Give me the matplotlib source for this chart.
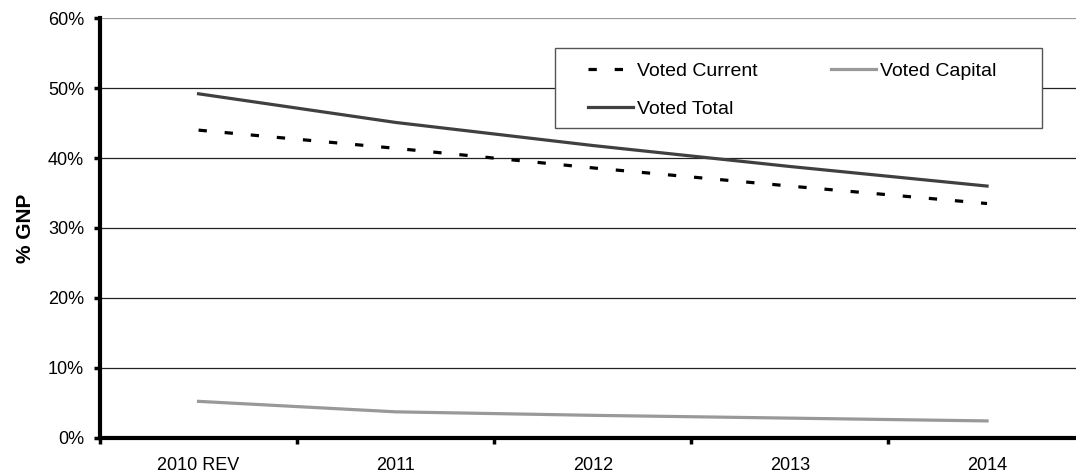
import matplotlib
matplotlib.use("Agg")
import matplotlib.pyplot as plt
from matplotlib.patches import Rectangle
from matplotlib.ticker import FixedLocator, NullFormatter, FuncFormatter

plt.rcParams['font.family'] = ['Liberation Sans', 'DejaVu Sans']

categories = ["2010 REV", "2011", "2012", "2013", "2014"]
voted_current = [44.0, 41.4, 38.6, 36.0, 33.5]
voted_capital = [5.2, 3.7, 3.2, 2.8, 2.4]
voted_total = [49.2, 45.1, 41.8, 38.8, 36.0]
y_ticks = [0, 10, 20, 30, 40, 50, 60]

W, H = 1076, 475
fig = plt.figure(figsize=(W / 100, H / 100), dpi=100)
ax = fig.add_axes([100/W, (H-437.7)/H, (1085.6-100)/W, (437.7-18.3)/H])

x = list(range(len(categories)))
l_cur, = ax.plot(x, voted_current, color='black', lw=2.3, dashes=(2.6, 5.6),
                 label='Voted Current', dash_capstyle='butt')
l_cap, = ax.plot(x, voted_capital, color='#999999', lw=2.3, label='Voted Capital')
l_tot, = ax.plot(x, voted_total, color='#404040', lw=2.3, label='Voted Total')

ax.set_xlim(-0.5, len(categories) - 0.5)
ax.set_ylim(0, 60)

ax.yaxis.set_major_locator(FixedLocator(y_ticks))
ax.yaxis.set_major_formatter(FuncFormatter(lambda v, p: f"{int(v)}%"))
for yv in y_ticks[1:]:
    ax.axhline(yv, color='#222222' if yv < 60 else '#999999', lw=0.9, zorder=0)

ax.xaxis.set_major_locator(FixedLocator([i - 0.5 for i in range(len(categories) + 1)]))
ax.xaxis.set_major_formatter(NullFormatter())
ax.xaxis.set_minor_locator(FixedLocator(x))
ax.set_xticklabels(categories, minor=True)
ax.tick_params(axis='x', which='minor', length=0, pad=14, labelsize=13)
ax.tick_params(axis='x', which='major', length=4, width=2.5, direction='out')
ax.tick_params(axis='y', which='major', length=4.5, width=2.5, pad=7, labelsize=13)

for s in ['top', 'right']:
    ax.spines[s].set_visible(False)
for s in ['left', 'bottom']:
    ax.spines[s].set_linewidth(3)
    ax.spines[s].set_color('black')

ax.set_ylabel('% GNP', fontsize=15, fontweight='bold', labelpad=9)

# legend frame
frame = Rectangle((555/W, (H-128)/H), (1042-555)/W, 80/H,
                  transform=fig.transFigure, facecolor='white',
                  edgecolor='#555555', lw=1.0, zorder=5)
fig.add_artist(frame)

leg = fig.legend(handles=[l_cur, l_tot, l_cap], ncol=2, loc='upper left',
                 bbox_to_anchor=(588/W, (H-62)/H), bbox_transform=fig.transFigure,
                 frameon=False, fontsize=14,
                 handlelength=2.3, handletextpad=0.2, columnspacing=3.8,
                 labelspacing=1.05, borderpad=0, borderaxespad=0)
leg.set_zorder(6)

fig.savefig('out.png', dpi=100)
